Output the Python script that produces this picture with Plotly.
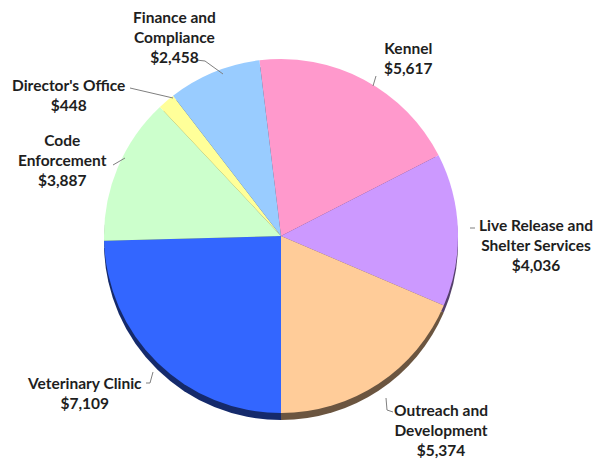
import plotly.graph_objects as go

categories = ["Kennel", "Live Release and Shelter Services", "Outreach and Development",
              "Veterinary Clinic", "Code Enforcement", "Director's Office", "Finance and Compliance"]
values = [5617, 4036, 5374, 7109, 3887, 448, 2458]
label_lines = [["Kennel"], ["Live Release and", "Shelter Services"], ["Outreach and", "Development"],
               ["Veterinary Clinic"], ["Code", "Enforcement"], ["Director's Office"], ["Finance and", "Compliance"]]
colors = ["#FF99CC", "#CC99FF", "#FFCC99", "#3366FF", "#CCFFCC", "#FFFF99", "#99CCFF"]

W, H = 597, 459


def darken(hexc, f=0.42):
    h = hexc.lstrip("#")
    r, g, b = (int(h[i:i + 2], 16) for i in (0, 2, 4))
    return "#%02X%02X%02X" % (int(r * f), int(g * f), int(b * f))


cx, cy, r = 281, 236, 177
shift = 7


def dom(cx, cy, r):
    return dict(x=[(cx - r) / W, (cx + r) / W], y=[1 - (cy + r) / H, 1 - (cy - r) / H])


rotation = -7
fig = go.Figure()
fig.add_trace(go.Pie(labels=categories, values=values, sort=False, direction="clockwise",
                     rotation=rotation, textinfo="none", hoverinfo="skip", showlegend=False,
                     marker=dict(colors=[darken(c) for c in colors], line=dict(width=0)),
                     domain=dom(cx, cy + shift, r)))
fig.add_trace(go.Pie(labels=categories, values=values, sort=False, direction="clockwise",
                     rotation=rotation, textinfo="none", showlegend=False,
                     marker=dict(colors=colors, line=dict(width=0)),
                     domain=dom(cx, cy, r)))

# label centers (px) and leader lines (px)
label_pos = [(408, 58), (536, 245), (441, 430), (85, 393), (62, 160), (68, 95), (175, 37)]
leaders = [[(376, 76), (373, 86)], [(470, 228), (475, 228)], [(393, 412), (387, 410), (386, 398)],
           [(146, 383), (150, 383), (153, 372)], [(113, 165), (125, 158)], [(130, 88), (173, 98)],
           [(196, 60), (205, 61), (223, 74)]]

annotations = []
for lines, v, (x, y) in zip(label_lines, values, label_pos):
    txt = "<br>".join("<b>%s</b>" % s for s in lines + ["${:,}".format(v)])
    annotations.append(dict(text=txt, x=x / W, y=1 - y / H, xref="paper", yref="paper",
                            xanchor="center", yanchor="middle", showarrow=False,
                            font=dict(family="Lato", size=15.5, color="#1E1E1E")))

shapes = []
for pts in leaders:
    for (x0, y0), (x1, y1) in zip(pts[:-1], pts[1:]):
        shapes.append(dict(type="line", xref="paper", yref="paper",
                           x0=x0 / W, y0=1 - y0 / H, x1=x1 / W, y1=1 - y1 / H,
                           line=dict(color="#7F7F7F", width=1)))

fig.update_layout(width=W, height=H, margin=dict(l=0, r=0, t=0, b=0),
                  paper_bgcolor="white", plot_bgcolor="white",
                  annotations=annotations, shapes=shapes)
fig.write_html("out.html", config={"displayModeBar": False},
               post_script="document.body.style.margin='0';document.body.style.overflow='hidden';")
